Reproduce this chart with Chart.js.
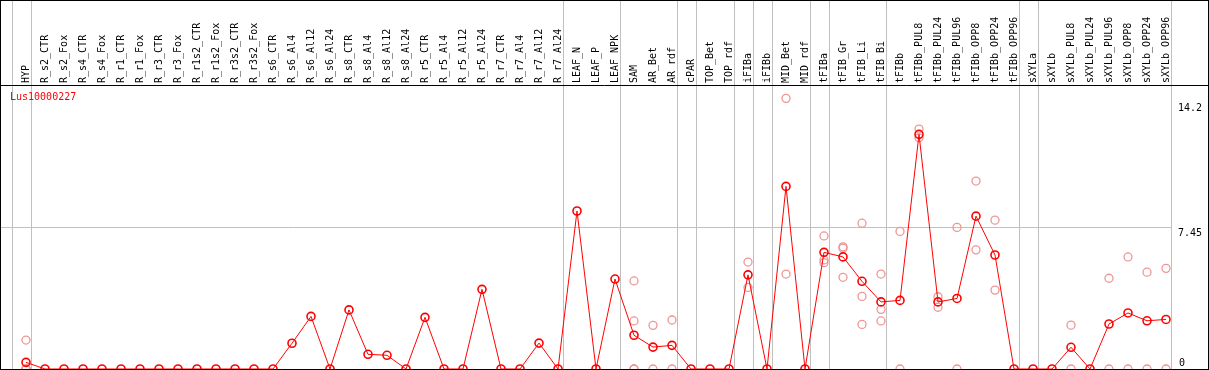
<!DOCTYPE html>
<html>
<head>
<meta charset="utf-8">
<script src="https://cdn.jsdelivr.net/npm/chart.js@4.4.0/dist/chart.umd.min.js"></script>
<style>
  html, body { margin: 0; padding: 0; background: #fff; }
  #chart { display: block; }
</style>
</head>
<body>
<canvas id="chart" width="1209" height="370"></canvas>
<script>
// ==================== DATA ====================
const geneName = "Lus10000227";

const categories = [
  "HYP", "R_s2_CTR", "R_s2_Fox", "R_s4_CTR", "R_s4_Fox", "R_r1_CTR", "R_r1_Fox", "R_r3_CTR", "R_r3_Fox",
  "R_r1s2_CTR", "R_r1s2_Fox", "R_r3s2_CTR", "R_r3s2_Fox", "R_s6_CTR", "R_s6_Al4", "R_s6_Al12", "R_s6_Al24",
  "R_s8_CTR", "R_s8_Al4", "R_s8_Al12", "R_s8_Al24", "R_r5_CTR", "R_r5_Al4", "R_r5_Al12", "R_r5_Al24",
  "R_r7_CTR", "R_r7_Al4", "R_r7_Al12", "R_r7_Al24", "LEAF_N", "LEAF_P", "LEAF_NPK", "SAM", "AR_Bet", "AR_rdf",
  "cPAR", "TOP_Bet", "TOP_rdf", "iFIBa", "iFIBb", "MID_Bet", "MID_rdf", "tFIBa", "tFIB_Gr", "tFIB_Li", "tFIB_Bi",
  "tFIBb", "tFIBb_PUL8", "tFIBb_PUL24", "tFIBb_PUL96", "tFIBb_OPP8", "tFIBb_OPP24", "tFIBb_OPP96",
  "sXYLa", "sXYLb", "sXYLb_PUL8", "sXYLb_PUL24", "sXYLb_PUL96", "sXYLb_OPP8", "sXYLb_OPP24", "sXYLb_OPP96"
];

// mean expression per sample
const means = [
  0.35, 0, 0, 0, 0, 0, 0, 0, 0, 0, 0, 0, 0, 0, 1.35, 2.76, 0,
  3.10, 0.77, 0.72, 0, 2.71, 0, 0, 4.18,
  0, 0, 1.36, 0, 8.29, 0, 4.72, 1.77, 1.15, 1.24,
  0, 0, 0, 4.94, 0, 9.58, 0, 6.12, 5.88, 4.60, 3.52,
  3.60, 12.31, 3.52, 3.70, 8.02, 5.98, 0,
  0, 0, 1.14, 0, 2.36, 2.94, 2.53, 2.60
];

// individual replicate values (faded circles)
const replicates = [
  [1.52, 0, 0, 0], [], [], [], [], [], [], [], [], [], [], [], [], [], [], [], [],
  [], [], [], [], [], [], [], [],
  [], [], [], [], [], [], [], [4.62, 2.52, 0, 0], [2.29, 0], [2.57, 0],
  [], [], [], [5.61, 4.28], [], [14.2, 4.98], [], [6.98, 5.72, 5.58], [6.41, 6.34, 4.81], [7.65, 3.81, 2.34], [4.98, 3.13, 2.52],
  [7.22, 0], [12.59, 12.13], [3.79, 3.24], [7.43, 0], [9.86, 6.25], [7.81, 4.14], [],
  [], [], [2.30, 0], [], [4.76, 0], [5.88, 0], [5.08, 0], [5.28, 0]
];

// grey group separators drawn right after these sample indices (-1 = before the first)
const groupEnds = [-1, 0, 28, 31, 34, 35, 37, 38, 39, 41, 42, 45, 52, 53, 60];

const yTickValues = [0, 7.45, 14.2];
const yTickLabels = ["0", "7.45", "14.2"];
const yMax = 14.9;

// ==================== HELPERS ====================
const MONO = "'DejaVu Sans Mono', 'Liberation Mono', monospace";
const GRID = "#c0c0c0";

const meanPoints = means.map((v, i) => ({ x: i, y: v }));
const repPoints = [];
replicates.forEach((reps, i) => reps.forEach(v => repPoints.push({ x: i, y: v })));

const decorations = {
  id: "decorations",
  beforeDatasetsDraw(chart) {
    const { ctx, chartArea, scales } = chart;
    ctx.save();
    ctx.strokeStyle = GRID;
    ctx.lineWidth = 1;
    groupEnds.forEach(i => {
      const x = Math.round(scales.x.getPixelForValue(i + 0.24)) + 0.5;
      ctx.beginPath();
      ctx.moveTo(x, 0);
      ctx.lineTo(x, chartArea.bottom);
      ctx.stroke();
    });
    ctx.restore();
  },
  afterDraw(chart) {
    const { ctx, chartArea, scales, width, height } = chart;
    ctx.save();
    // outer frame + line under the sample names
    ctx.strokeStyle = "#000";
    ctx.lineWidth = 1;
    ctx.strokeRect(0.5, 0.5, width - 1, height - 1);
    ctx.beginPath();
    ctx.moveTo(0, chartArea.top + 0.5);
    ctx.lineTo(width, chartArea.top + 0.5);
    ctx.stroke();

    // value labels on the right
    ctx.fillStyle = "#000";
    ctx.font = "10px " + MONO;
    ctx.textAlign = "left";
    yTickValues.forEach((v, k) => {
      const y = scales.y.getPixelForValue(v);
      if (v === 0) {
        ctx.textBaseline = "alphabetic";
        ctx.fillText(yTickLabels[k], chartArea.right + 8, y - 3);
      } else {
        ctx.textBaseline = "top";
        ctx.fillText(yTickLabels[k], chartArea.right + 7, y + (k === yTickValues.length - 1 ? 5 : 1));
      }
    });

    // gene name
    ctx.fillStyle = "#ff0000";
    ctx.textBaseline = "top";
    ctx.fillText(chart.data.datasets[1].label, chartArea.left + 9, chartArea.top + 7);
    ctx.restore();
  }
};

// ==================== CHART ====================
new Chart(document.getElementById("chart"), {
  type: "line",
  data: {
    datasets: [
      {
        label: "replicates",
        data: repPoints,
        showLine: false,
        pointRadius: 4,
        pointBorderWidth: 1.3,
        pointBorderColor: "rgb(238,150,150)",
        pointBackgroundColor: "rgba(0,0,0,0)",
        order: 2
      },
      {
        label: geneName,
        data: meanPoints,
        borderColor: "#ff0000",
        borderWidth: 1,
        tension: 0,
        pointRadius: 4,
        pointBorderWidth: 1.6,
        pointBorderColor: "#ff0000",
        pointBackgroundColor: "rgba(0,0,0,0)",
        order: 1
      }
    ]
  },
  options: {
    responsive: false,
    animation: false,
    devicePixelRatio: 1,
    layout: { autoPadding: false, padding: { left: 1, top: 1, right: 1, bottom: 1 } },
    plugins: { legend: { display: false }, tooltip: { enabled: false } },
    scales: {
      x: {
        type: "linear",
        position: "top",
        min: -25 / 19,
        max: 60 + 5 / 19,
        afterBuildTicks: scale => { scale.ticks = categories.map((_, i) => ({ value: i })); },
        afterFit: scale => { scale.height = 84; scale.paddingLeft = 0; scale.paddingRight = 0; },
        grid: { display: false, drawTicks: false },
        border: { display: false },
        ticks: {
          autoSkip: false,
          minRotation: 90,
          maxRotation: 90,
          padding: 2,
          labelOffset: 12,
          color: "#000",
          font: { family: MONO, size: 10 },
          callback: v => categories[v]
        }
      },
      y: {
        position: "right",
        min: 0,
        max: yMax,
        afterBuildTicks: scale => { scale.ticks = yTickValues.map(v => ({ value: v })); },
        afterFit: scale => { scale.width = 37; },
        grid: {
          drawTicks: false,
          color: c => (c.tick && c.tick.value === 7.45 ? GRID : "rgba(0,0,0,0)")
        },
        border: { display: false },
        ticks: { display: false }
      }
    }
  },
  plugins: [decorations]
});
</script>
</body>
</html>
